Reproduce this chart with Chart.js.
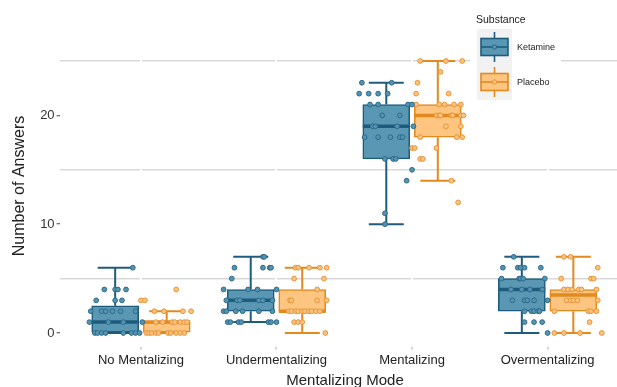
<!DOCTYPE html>
<html>
<head>
<meta charset="utf-8">
<script src="https://cdn.jsdelivr.net/npm/chart.js@4.4.1/dist/chart.umd.min.js"></script>
<style>
  html, body { margin: 0; padding: 0; background: #fff; }
  #wrap { width: 617px; height: 387px; position: relative; }
</style>
</head>
<body>
<div id="wrap"><canvas id="chart"></canvas></div>
<script>
// Mentalizing modes along the x axis
const categories = ['No Mentalizing', 'Undermentalizing', 'Mentalizing', 'Overmentalizing'];
const substances = ['Ketamine', 'Placebo'];
const yTickValues = [0, 10, 20];
const yGridValues = [5, 15, 25];

// Box summaries per mode: [lower whisker, Q1, median, Q3, upper whisker]
const ketamineStats = [[0, 0, 1, 2.5, 6], [1, 2, 3, 4, 7], [10, 16, 19, 21, 23], [0, 2, 4, 5, 7]];
const placeboStats  = [[0, 0, 1, 1, 2],   [0, 2, 2, 4, 6], [14, 18, 20, 21, 25], [0, 2, 3.5, 4, 7]];

// Individual answers per mode as [count, horizontal jitter in category units]
const ketamineAnswers = [
  [[6,.13],[4,-.08],[4,0],[4,.02],[4,.08],[3,-.14],[3,0],[3,.05],[2,-.18],[2,-.10],[2,-.07],[2,-.02],[2,.04],[2,.15],
   [1,-.19],[1,-.05],[1,.06],[1,.20],[0,-.15],[0,-.13],[0,-.10],[0,-.07],[0,.06],[0,.12],[0,.15],[0,.18]],
  [[7,.09],[7,.10],[6,-.12],[6,.09],[6,.14],[6,.15],[5,-.14],[4,-.20],[4,-.02],[4,.05],[4,.19],[3,-.18],[3,-.10],[3,-.08],
   [3,.06],[3,.09],[3,.16],[2,-.20],[2,-.18],[2,-.11],[2,-.06],[2,.06],[2,.16],[1,-.17],[1,-.15],[1,-.09],[1,-.07],[1,.13],[1,.15],[1,.19]],
  [[23,-.18],[23,.04],[22,-.20],[22,-.13],[22,-.06],[22,.01],[21,-.12],[21,-.06],[21,.16],[21,.19],[20,-.03],[20,.10],
   [19,-.10],[19,-.08],[19,.08],[19,.20],[18,-.16],[18,-.06],[18,.03],[18,.10],[18,.12],[16,-.01],[16,.05],[16,.07],
   [15,.19],[14,.15],[11,-.01],[10,-.01]],
  [[7,-.06],[6,-.14],[6,-.03],[6,-.01],[6,.02],[6,.14],[5,-.15],[5,-.02],[5,-.01],[5,.01],[5,.17],[4,-.08],[4,0],[4,.06],[4,.15],
   [3,-.07],[3,.02],[3,.04],[3,.09],[3,.19],[2,.02],[2,.07],[2,.09],[2,.12],[2,.13],[1,.02],[1,.09],[1,.15],[0,.19]]
];
const placeboAnswers = [
  [[4,.07],[3,-.19],[3,-.16],[2,-.09],[2,-.02],[2,.12],[2,.18],[1,-.08],[1,-.03],[1,.04],[1,.06],[1,.10],[1,.13],[1,.15],
   [0,-.15],[0,-.13],[0,-.11],[0,-.08],[0,-.06],[0,.01],[0,.03],[0,.07],[0,.10],[0,.13]],
  [[6,-.05],[6,-.03],[6,.05],[6,.13],[6,.18],[5,-.06],[5,.16],[4,.11],[3,-.09],[3,-.08],[3,.11],[3,.18],
   [2,-.10],[2,-.08],[2,-.05],[2,-.03],[2,0],[2,.02],[2,.05],[2,.07],[2,.10],[2,.13],[1,-.06],[1,-.03],[1,0],[0,.17]],
  [[25,-.13],[25,.06],[25,.18],[24,.02],[23,-.15],[22,-.16],[22,.08],[21,-.16],[21,.01],[21,.05],[21,.12],[21,.17],
   [20,-.01],[20,.01],[20,.02],[20,.10],[20,.11],[20,.17],[20,.19],[19,.06],[19,.17],[18,-.13],[18,.14],[18,.18],
   [17,-.19],[17,-.17],[17,-.01],[16,-.13],[16,-.11],[14,.10],[12,.15]],
  [[7,-.07],[7,-.02],[6,.18],[5,-.09],[5,.13],[5,.15],[4,-.07],[4,-.04],[4,-.01],[4,.04],[4,.06],[4,.17],
   [3,-.05],[3,-.02],[3,0],[3,.03],[3,.18],[2,-.14],[2,.11],[2,.13],[2,.17],[1,.12],[0,-.14],[0,-.07],[0,.05],[0,.21]]
];

// Styling per substance
const palette = {
  Ketamine: { fill: '#5a97b3', line: '#1e5c7e', dot: '#5693b0', dotEdge: '#2b6a8b', shift: -0.19 },
  Placebo:  { fill: '#fdc580', line: '#e2891f', dot: '#fbc37d', dotEdge: '#e6953a', shift: 0.19 }
};

function buildSeries(name, stats, answers) {
  const p = palette[name];
  const pos = i => i + p.shift;
  const whisker = [];
  stats.forEach((s, i) => {
    whisker.push({ x: pos(i), y: s[0] }, { x: pos(i), y: s[1] }, { x: pos(i), y: null },
                 { x: pos(i), y: s[3] }, { x: pos(i), y: s[4] }, { x: pos(i), y: null });
  });
  const caps = [];
  stats.forEach((s, i) => { caps.push({ x: pos(i), y: s[0] }, { x: pos(i), y: s[4] }); });
  const points = [];
  answers.forEach((grp, i) => grp.forEach(([v, j]) => points.push({ x: pos(i) + j, y: v })));
  return [
    { type: 'scatter', label: name + ' answers', data: points, order: 0,
      pointRadius: 2.4, pointBorderWidth: 1, pointBackgroundColor: p.dot, pointBorderColor: p.dotEdge },
    { type: 'scatter', label: name + ' median', data: stats.map((s, i) => ({ x: pos(i), y: s[2] })), order: 1,
      pointStyle: 'line', pointRadius: 23.5, pointBorderWidth: 3.5, pointBorderColor: p.line },
    { type: 'bar', label: name, data: stats.map((s, i) => ({ x: pos(i), y: [s[1], s[3]] })), order: 2,
      backgroundColor: p.fill, borderColor: p.line, borderWidth: 1.6, borderSkipped: false,
      barThickness: 47, grouped: false },
    { type: 'scatter', label: name + ' caps', data: caps, order: 3,
      pointStyle: 'line', pointRadius: 17.5, pointBorderWidth: 2, pointBorderColor: p.line },
    { type: 'line', label: name + ' whiskers', data: whisker, order: 3, spanGaps: false,
      borderColor: p.line, borderWidth: 2, pointRadius: 0, fill: false }
  ];
}

const datasets = [
  ...buildSeries('Ketamine', ketamineStats, ketamineAnswers),
  ...buildSeries('Placebo', placeboStats, placeboAnswers)
];

// White backing, boxplot glyph legend and axis titles
const legendPlugin = {
  id: 'substanceLegend',
  beforeDatasetsDraw(chart) {
    const ctx = chart.ctx;
    ctx.save();
    ctx.fillStyle = '#ffffff';
    ctx.fillRect(470, 6, 91, 102);
    ctx.restore();
  },
  afterDraw(chart) {
    const ctx = chart.ctx;
    ctx.save();
    ctx.fillStyle = '#222';
    ctx.font = '10.5px "Liberation Sans", Arial, sans-serif';
    ctx.textBaseline = 'middle';
    ctx.textAlign = 'left';
    ctx.fillText('Substance', 476, 20);
    ctx.fillStyle = '#f2f2f2';
    ctx.fillRect(477, 29, 35, 71);
    const keys = [[substances[0], 47], [substances[1], 82]];
    keys.forEach(([name, cy]) => {
      const p = palette[name];
      ctx.strokeStyle = p.line;
      ctx.lineWidth = 1.6;
      ctx.beginPath(); ctx.moveTo(494.5, cy - 15); ctx.lineTo(494.5, cy + 15); ctx.stroke();
      ctx.fillStyle = p.fill;
      ctx.fillRect(481, cy - 8.5, 27, 17);
      ctx.strokeRect(481, cy - 8.5, 27, 17);
      ctx.beginPath(); ctx.moveTo(481, cy); ctx.lineTo(508, cy); ctx.stroke();
      ctx.beginPath(); ctx.arc(494.5, cy, 2.2, 0, Math.PI * 2);
      ctx.fillStyle = p.dot; ctx.fill();
      ctx.lineWidth = 1; ctx.strokeStyle = p.dotEdge; ctx.stroke();
      ctx.fillStyle = '#222';
      ctx.font = '9px "Liberation Sans", Arial, sans-serif';
      ctx.fillText(name, 517, cy + 1);
    });
    // x axis title, centred on the full panel width
    ctx.textAlign = 'center';
    ctx.fillStyle = '#222';
    ctx.font = '15px "Liberation Sans", Arial, sans-serif';
    ctx.fillText('Mentalizing Mode', 345, 381);
    // y axis title
    ctx.translate(19.5, 186);
    ctx.rotate(-Math.PI / 2);
    ctx.font = '16px "Liberation Sans", Arial, sans-serif';
    ctx.fillText('Number of Answers', 0, 0);
    ctx.restore();
  }
};

Chart.defaults.font.family = '"Liberation Sans", Arial, sans-serif';

new Chart(document.getElementById('chart'), {
  data: { datasets },
  options: {
    responsive: true,
    maintainAspectRatio: false,
    animation: false,
    events: [],
    layout: { autoPadding: false, padding: { left: 0, right: 0, top: 47.4, bottom: 0 } },
    plugins: { legend: { display: false }, tooltip: { enabled: false } },
    scales: {
      x: {
        type: 'linear',
        offset: false,
        min: -0.6,
        max: 3.512,
        afterBuildTicks: s => { s.ticks = categories.map((_, i) => ({ value: i })); },
        afterFit: s => { s.height = 40.4; s.paddingLeft = 0; s.paddingRight = 0; },
        ticks: {
          padding: 3,
          color: '#222',
          font: { size: 13 },
          callback: v => categories[v]
        },
        grid: { z: -1, offset: false, color: '#ffffff', lineWidth: 2, drawTicks: true, tickLength: 3, tickColor: '#aaaaaa', tickWidth: 1 },
        border: { display: false }
      },
      y: {
        type: 'linear',
        min: -1.25,
        max: 26.25,
        afterBuildTicks: s => {
          s.ticks = [...yTickValues, ...yGridValues].sort((a, b) => a - b).map(v => ({ value: v }));
        },
        afterFit: s => { s.width = 59.6; s.paddingTop = 0; s.paddingBottom = 0; },
        ticks: {
          padding: 2,
          color: '#333',
          font: { size: 13 },
          callback: v => (yTickValues.includes(v) ? String(v) : '')
        },
        grid: {
          z: -2,
          lineWidth: 1.5,
          color: c => (c.tick && yGridValues.includes(c.tick.value) ? '#d9d9d9' : 'rgba(0,0,0,0)'),
          drawTicks: true,
          tickLength: 3,
          tickWidth: 1,
          tickColor: c => (c.tick && yTickValues.includes(c.tick.value) ? '#444' : 'rgba(0,0,0,0)')
        },
        border: { display: false }
      }
    }
  },
  plugins: [legendPlugin]
});
</script>
</body>
</html>
